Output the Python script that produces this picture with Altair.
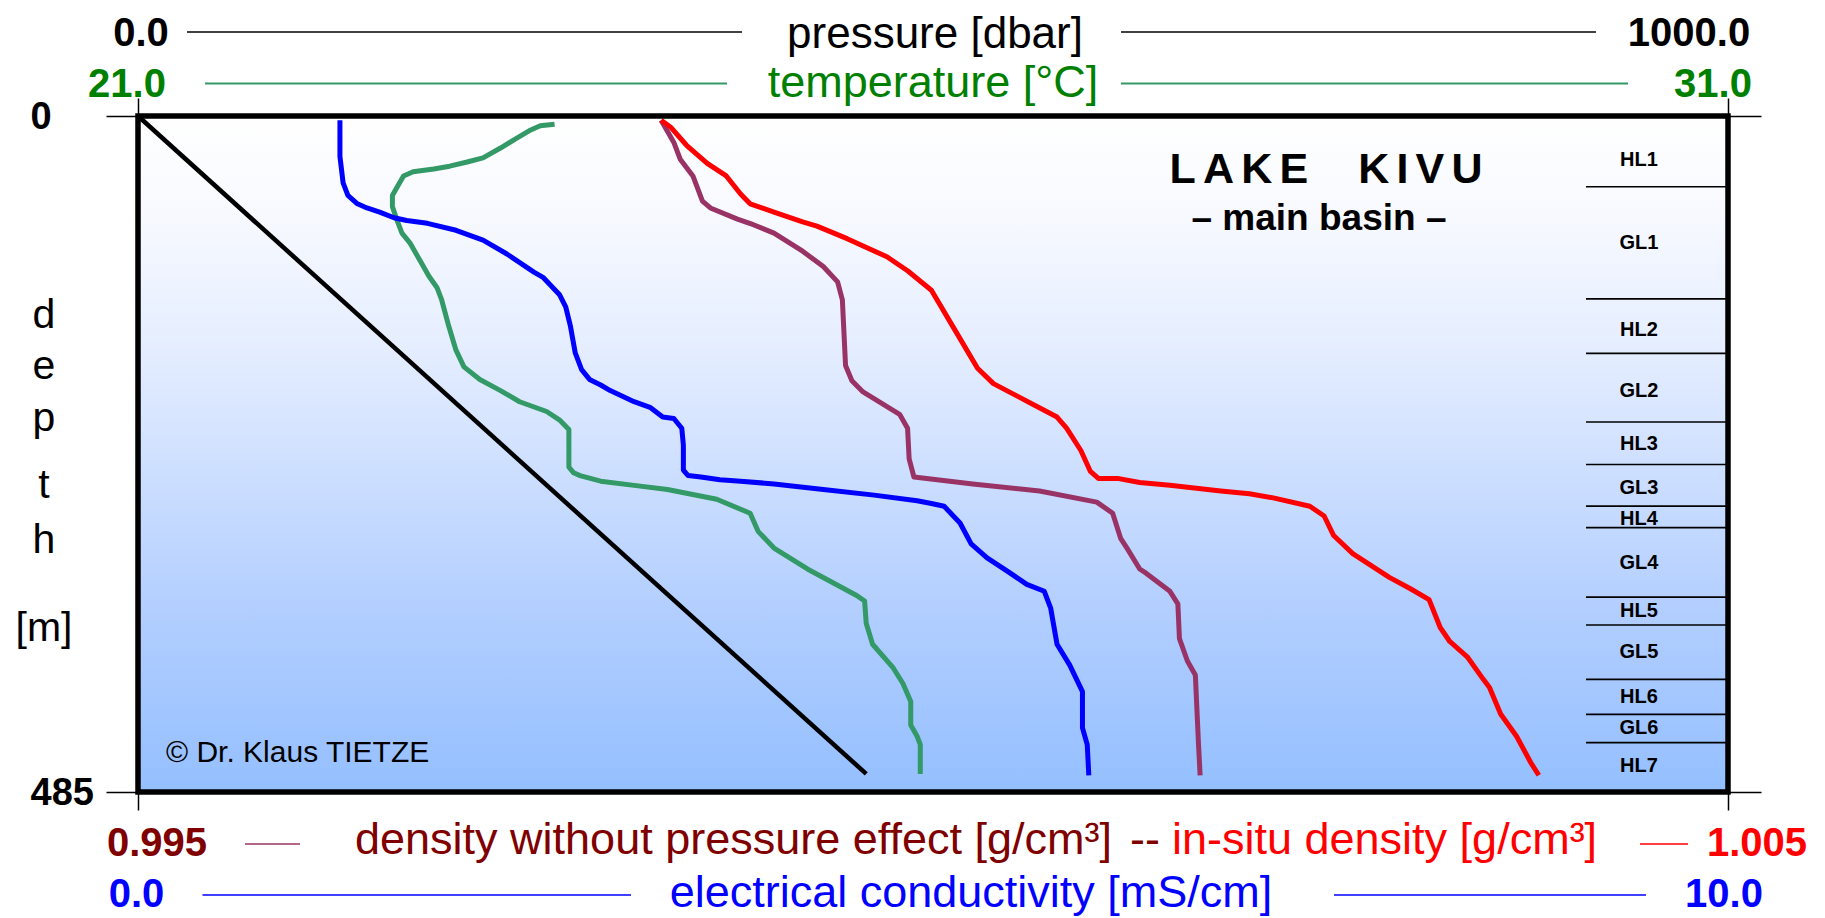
import altair as alt
import pandas as pd

# ---------------- data ----------------
press_depth = [0, 472]
press_dbar = [0, 458]

temp_depth = [6, 7, 10, 16, 23, 30, 33, 36, 38, 40, 43, 51, 57, 65, 75, 84, 91, 103, 115, 123,
              132, 149, 168, 180, 189, 197, 205, 212, 218, 225, 252, 256, 258, 262, 265, 268, 275, 285, 298, 310,
              325, 344, 348, 364, 379, 396, 407, 420, 437, 445, 451, 472]
temp_c = [23.62, 23.53, 23.47, 23.38, 23.28, 23.17, 23.07, 22.96, 22.86, 22.73,
          22.67, 22.63, 22.60, 22.60, 22.63, 22.66, 22.71, 22.77, 22.83, 22.88,
          22.91, 22.95, 23.00, 23.05, 23.15, 23.28, 23.40, 23.57, 23.65, 23.71,
          23.71, 23.74, 23.78, 23.91, 24.12, 24.33, 24.64, 24.85, 24.90, 25.00,
          25.21, 25.52, 25.57, 25.58, 25.62, 25.75, 25.81, 25.86, 25.86, 25.90, 25.92, 25.92]

cond_depth = [3, 29, 48, 57, 63, 66, 69, 73, 75, 77, 82, 89, 99, 112, 116, 128, 137, 151, 170, 182,
              189, 193, 197, 205, 209, 216, 217, 224, 236, 254, 258, 259, 261, 262, 264, 268, 272, 276, 278, 280,
              292, 307, 317, 326, 336, 341, 353, 379, 394, 413, 439, 451, 473]
cond_ms = [1.27, 1.27, 1.29, 1.32, 1.38, 1.44, 1.52, 1.61, 1.69, 1.82,
           2.00, 2.17, 2.32, 2.49, 2.55, 2.65, 2.69, 2.72, 2.75, 2.79,
           2.84, 2.91, 2.97, 3.12, 3.22, 3.30, 3.37, 3.42, 3.43, 3.43,
           3.46, 3.54, 3.66, 3.79, 4.00, 4.31, 4.63, 4.90, 4.99, 5.07,
           5.17, 5.24, 5.34, 5.46, 5.59, 5.70, 5.74, 5.78, 5.86, 5.94, 5.94, 5.97, 5.98]

rho0_depth = [3, 19, 31, 43, 61, 66, 74, 78, 84, 97, 108, 119, 132, 179, 190, 198, 214, 224, 246, 259,
              260, 264, 269, 277, 285, 303, 310, 325, 328, 341, 350, 375, 391, 401, 451, 473]
rho0 = [0.99829, 0.99837, 0.99841, 0.99849, 0.99855, 0.99860, 0.99877, 0.99887, 0.99900, 0.99918,
        0.99931, 0.99940, 0.99943, 0.99945, 0.99949, 0.99956, 0.99979, 0.99984, 0.99985, 0.99988,
        0.99996, 1.00025, 1.00067, 1.00103, 1.00113, 1.00118, 1.00122, 1.00130, 1.00134, 1.00149,
        1.00154, 1.00155, 1.00160, 1.00165, 1.00167, 1.00168]

rho_depth = [3, 8, 21, 34, 43, 56, 63, 69, 76, 79, 88, 101, 111, 125, 152, 181, 192, 201, 207, 216,
             224, 240, 255, 260, 260, 263, 265, 269, 271, 274, 280, 287, 301, 314, 331, 339, 347, 367, 377, 388,
             404, 410, 429, 445, 464, 473]
rho_insitu = [0.99829, 0.99835, 0.99845, 0.99858, 0.99870, 0.99879, 0.99885, 0.99900, 0.99918, 0.99927,
              0.99946, 0.99971, 0.99984, 0.99999, 1.00013, 1.00028, 1.00038, 1.00053, 1.00063, 1.00078,
              1.00084, 1.00093, 1.00099, 1.00104, 1.00116, 1.00130, 1.00149, 1.00181, 1.00199, 1.00214,
              1.00237, 1.00246, 1.00252, 1.00264, 1.00287, 1.00300, 1.00312, 1.00319, 1.00325, 1.00336,
              1.00346, 1.00350, 1.00357, 1.00367, 1.00376, 1.00381]

layer_bounds = [50.8, 131.2, 170.3, 219.5, 250.0, 279.9, 295.3, 345.2, 365.2, 404.2, 429.3, 449.6]
layer_names = ["HL1", "GL1", "HL2", "GL2", "HL3", "GL3", "HL4", "GL4", "HL5", "GL5", "HL6", "GL6", "HL7"]
layer_label_depth = [31.7, 91.0, 153.6, 197.0, 235.4, 267.1, 288.8, 320.6, 354.8, 384.8, 416.6, 439.1, 466.7]

# ---------------- styling ----------------
FONT = "Liberation Sans, Arial, Helvetica, sans-serif"
W, H = 1590, 676
GREEN_LINE = "#339966"
GREEN_TXT = "#008000"
PURPLE = "#993366"
DARKRED = "#800000"
RED = "#FF0000"
BLUE = "#0000FF"
CURVE_W = 5

ONE = pd.DataFrame({"k": [0]})


def prof(depths, vals):
    return pd.DataFrame({"depth": depths, "v": vals, "i": list(range(len(depths)))})


YS = alt.Scale(domain=[0, 485], reverse=True, nice=False, zero=False)


def txt(s, x, y, color="black", size=45, weight="normal", align="center"):
    return alt.Chart(ONE).mark_text(text=s, color=color, fontSize=size, fontWeight=weight,
                                    align=align, baseline="alphabetic", font=FONT).encode(
        x=alt.value(x), y=alt.value(y))


def hline(x1, x2, y, color, width=1.5):
    return alt.Chart(ONE).mark_rule(color=color, strokeWidth=width).encode(
        x=alt.value(x1), x2=alt.value(x2), y=alt.value(y))


bg = alt.Chart(ONE).mark_rect(
    color=alt.LinearGradient(
        gradient="linear", x1=0, x2=0, y1=0, y2=1,
        stops=[alt.GradientStop(offset=0, color="#FFFFFF"),
               alt.GradientStop(offset=0.15, color="#F7F9FF"),
               alt.GradientStop(offset=0.35, color="#E4EDFF"),
               alt.GradientStop(offset=0.55, color="#CADDFF"),
               alt.GradientStop(offset=0.75, color="#B0CDFF"),
               alt.GradientStop(offset=1.0, color="#94BFFF")])
).encode(x=alt.value(0), x2=alt.value(W), y=alt.value(0), y2=alt.value(H))

bounds = alt.Chart(pd.DataFrame({"depth": layer_bounds})).mark_rule(
    color="black", strokeWidth=1.6).encode(
    y=alt.Y("depth:Q", scale=YS, axis=None), x=alt.value(1448), x2=alt.value(W))

labels = alt.Chart(pd.DataFrame({"depth": layer_label_depth, "name": layer_names})).mark_text(
    fontSize=20, fontWeight="bold", font=FONT, color="black", baseline="middle", align="center").encode(
    y=alt.Y("depth:Q", scale=YS, axis=None), x=alt.value(1501), text="name:N")

pressure = alt.Chart(prof(press_depth, press_dbar)).mark_line(color="black", strokeWidth=4.5).encode(
    x=alt.X("v:Q", scale=alt.Scale(domain=[0, 1000], nice=False, zero=False),
            axis=alt.Axis(orient="top", values=[0, 1000], labels=False, domain=False, grid=False,
                          tickSize=18, tickWidth=1.5, tickColor="black", title=None)),
    y=alt.Y("depth:Q", scale=YS,
            axis=alt.Axis(orient="left", values=[0, 485], format="d", domain=False, grid=False,
                          tickSize=32, tickWidth=1.5, tickColor="black",
                          labelFontSize=38, labelFontWeight="bold", labelFont=FONT, labelColor="black",
                          labelAlign="left", labelBaseline="middle", labelPadding=76, labelFlush=False,
                          labelOffset=1, title=None)),
    order="i:Q")

temperature = alt.Chart(prof(temp_depth, temp_c)).mark_line(
    color=GREEN_LINE, strokeWidth=CURVE_W, strokeJoin="round").encode(
    x=alt.X("v:Q", scale=alt.Scale(domain=[21, 31], nice=False, zero=False), axis=None),
    y=alt.Y("depth:Q", scale=YS, axis=None), order="i:Q")

conductivity = alt.Chart(prof(cond_depth, cond_ms)).mark_line(
    color=BLUE, strokeWidth=CURVE_W, strokeJoin="round").encode(
    x=alt.X("v:Q", scale=alt.Scale(domain=[0, 10], nice=False, zero=False),
            axis=alt.Axis(orient="bottom", values=[0, 10], labels=False, domain=False, grid=False,
                          tickSize=18, tickWidth=1.5, tickColor="black", title=None)),
    y=alt.Y("depth:Q", scale=YS, axis=None), order="i:Q")

density0 = alt.Chart(prof(rho0_depth, rho0)).mark_line(
    color=PURPLE, strokeWidth=CURVE_W, strokeJoin="round").encode(
    x=alt.X("v:Q", scale=alt.Scale(domain=[0.995, 1.005], nice=False, zero=False), axis=None),
    y=alt.Y("depth:Q", scale=YS, axis=None), order="i:Q")

density = alt.Chart(prof(rho_depth, rho_insitu)).mark_line(
    color=RED, strokeWidth=CURVE_W, strokeJoin="round").encode(
    x=alt.X("v:Q", scale=alt.Scale(domain=[0.995, 1.005], nice=False, zero=False), axis=None),
    y=alt.Y("depth:Q", scale=YS,
            axis=alt.Axis(orient="right", values=[0, 485], labels=False, domain=False, grid=False,
                          tickSize=33, tickWidth=1.5, tickColor="black", title=None)),
    order="i:Q")

frame = alt.Chart(ONE).mark_rect(fill="transparent", stroke="black", strokeWidth=5.5).encode(
    x=alt.value(0), x2=alt.value(W), y=alt.value(0), y2=alt.value(H))

texts = [
    # top row 1: pressure
    hline(49, 604, -84, "black"), hline(983, 1458, -84, "black"),
    txt("0.0", 3, -70, "black", 40, "bold"),
    txt("pressure [dbar]", 797, -68, "black", 44),
    txt("1000.0", 1551, -70, "black", 40, "bold"),
    # top row 2: temperature
    hline(67, 589, -32.5, GREEN_LINE, 2), hline(983, 1490, -32.5, GREEN_LINE, 2),
    txt("21.0", -11, -19, GREEN_TXT, 40, "bold"),
    txt("temperature [°C]", 795, -19, GREEN_TXT),
    txt("31.0", 1575, -19, GREEN_TXT, 40, "bold"),
    # bottom row 1: densities
    hline(107, 162, 728, PURPLE), hline(1502, 1550, 728, RED),
    txt("0.995", 19, 740, DARKRED, 40, "bold"),
    txt("density without pressure effect [g/cm³]", 217, 738, DARKRED, align="left"),
    txt("--", 992, 738, DARKRED, align="left"),
    txt("in-situ density [g/cm³]", 1034, 738, RED, align="left"),
    txt("1.005", 1619, 740, RED, 40, "bold"),
    # bottom row 2: conductivity
    hline(64.5, 493, 779, BLUE), hline(1196, 1508, 779, BLUE),
    txt("0.0", -1.5, 791, BLUE, 40, "bold"),
    txt("electrical conductivity [mS/cm]", 833, 791, BLUE),
    txt("10.0", 1586, 791, BLUE, 40, "bold"),
    # vertical title
    txt("d", -94, 212, "black", 41), txt("e", -94, 263, "black", 41),
    txt("p", -94, 315, "black", 41), txt("t", -94, 382, "black", 41),
    txt("h", -94, 437, "black", 41), txt("[m]", -94, 525, "black", 41),
    # in-plot annotations
    txt("L\u2006A\u2006K\u2006E\u2003\u2006K\u2006I\u2006V\u2006U", 1188, 67, "black", 43, "bold"),
    txt("\u2013 main basin \u2013", 1181, 114, "black", 37, "bold"),
    txt("\u00a9 Dr. Klaus TIETZE", 28, 646, "black", 30, align="left"),
]

chart = alt.layer(
    bg, bounds, labels, pressure, temperature, conductivity, density0, density, frame, *texts
).resolve_scale(x="independent", y="shared").resolve_axis(x="independent", y="independent").properties(
    width=W, height=H,
    autosize=alt.AutoSizeParams(type="none"),
    padding={"left": 130, "top": 108, "right": 87, "bottom": 126},
).configure(background="white").configure_view(strokeWidth=0).configure_axis(grid=False)

chart.save("out.html", embed_options={"renderer": "svg", "actions": False})
